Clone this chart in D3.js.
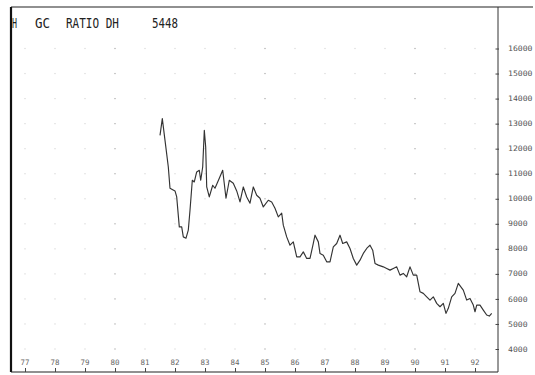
<!DOCTYPE html>
<html>
<head>
<meta charset="utf-8">
<script src="https://cdn.jsdelivr.net/npm/d3@7"></script>
<style>
  html, body { margin: 0; padding: 0; background: #fff; }
  svg { display: block; }
  text { -webkit-font-smoothing: antialiased; }
</style>
</head>
<body>
<script>
// ---- data ----
const titleParts = ["H", "GC", "RATIO DH", "5448"];
const yearTicks = [77, 78, 79, 80, 81, 82, 83, 84, 85, 86, 87, 88, 89, 90, 91, 92];
const valueTicks = [4000, 5000, 6000, 7000, 8000, 9000, 10000, 11000, 12000, 13000, 14000, 15000, 16000];
const dates = [81.5, 81.577, 81.667, 81.777, 81.833, 82.0, 82.057, 82.143, 82.223, 82.277, 82.367, 82.443, 82.5, 82.577, 82.643, 82.723, 82.81, 82.857, 82.923, 82.977, 83.023, 83.057, 83.143, 83.257, 83.333, 83.477, 83.59, 83.7, 83.81, 83.943, 84.057, 84.167, 84.277, 84.39, 84.5, 84.61, 84.723, 84.833, 84.943, 85.11, 85.223, 85.333, 85.443, 85.557, 85.61, 85.723, 85.833, 85.943, 86.057, 86.167, 86.277, 86.39, 86.5, 86.61, 86.667, 86.777, 86.833, 86.943, 87.057, 87.167, 87.277, 87.39, 87.5, 87.59, 87.723, 87.833, 87.943, 88.057, 88.167, 88.277, 88.39, 88.5, 88.59, 88.667, 88.777, 88.943, 89.057, 89.167, 89.277, 89.39, 89.5, 89.61, 89.723, 89.833, 89.943, 90.057, 90.167, 90.277, 90.39, 90.5, 90.61, 90.723, 90.833, 90.943, 91.033, 91.11, 91.223, 91.333, 91.443, 91.61, 91.723, 91.833, 91.943, 92.0, 92.057, 92.167, 92.277, 92.39, 92.477, 92.557];
const ratio = [12532, 13198, 12333, 11268, 10419, 10313, 10072, 8876, 8876, 8477, 8425, 8745, 9542, 10738, 10670, 11069, 11137, 10738, 11268, 12732, 12066, 10471, 10072, 10539, 10419, 10818, 11137, 10020, 10738, 10618, 10313, 9873, 10471, 10072, 9821, 10471, 10140, 10020, 9673, 9940, 9873, 9622, 9275, 9422, 8944, 8477, 8146, 8278, 7680, 7680, 7879, 7616, 7616, 8214, 8545, 8278, 7816, 7748, 7481, 7481, 8079, 8214, 8545, 8214, 8278, 8015, 7616, 7349, 7548, 7816, 8015, 8146, 7947, 7417, 7349, 7281, 7217, 7150, 7217, 7281, 6950, 7018, 6883, 7281, 6950, 6950, 6285, 6221, 6085, 5954, 6085, 5822, 5687, 5822, 5423, 5623, 6085, 6221, 6619, 6352, 5954, 6021, 5754, 5487, 5754, 5754, 5555, 5356, 5316, 5423];

// ---- layout ----
const W = 535, H = 375;
const frameLeft = 11, frameTop = 7, axisX = 498, frameBottom = 372;

const svg = d3.select("body").append("svg").attr("width", W).attr("height", H);
svg.append("rect").attr("width", W).attr("height", H).attr("fill", "#fff");

const x = d3.scaleLinear().domain([77, 92]).range([25, 475]);
const y = d3.scaleLinear().domain([4000, 16000]).range([349, 48.5]);

// grid dots
const grid = svg.append("g");
yearTicks.forEach(yr => {
  valueTicks.forEach(v => {
    grid.append("rect")
      .attr("x", x(yr) - 0.6).attr("y", y(v) - 0.6)
      .attr("width", 1.2).attr("height", 1.2)
      .attr("fill", (yr % 5 === 0) ? "#a8a8a8" : "#d8d8d8");
  });
});

// frame
svg.append("line").attr("x1", frameLeft).attr("x2", 533).attr("y1", frameTop).attr("y2", frameTop)
  .attr("stroke", "#222").attr("stroke-width", 1.2);
svg.append("line").attr("x1", frameLeft).attr("x2", frameLeft).attr("y1", frameTop).attr("y2", frameBottom)
  .attr("stroke", "#111").attr("stroke-width", 2.2);
svg.append("line").attr("x1", frameLeft).attr("x2", axisX).attr("y1", frameBottom).attr("y2", frameBottom)
  .attr("stroke", "#222").attr("stroke-width", 1.2);
svg.append("line").attr("x1", axisX).attr("x2", axisX).attr("y1", frameTop).attr("y2", frameBottom)
  .attr("stroke", "#333").attr("stroke-width", 1);

// bottom axis (ticks up from baseline)
const xAxis = d3.axisTop(x).tickValues(yearTicks).tickSize(4).tickFormat(d3.format("d"));
const gx = svg.append("g").attr("transform", `translate(0,${frameBottom})`).call(xAxis);
gx.select(".domain").remove();
gx.selectAll(".tick line").attr("stroke", "#444");
gx.selectAll(".tick text").remove();
svg.append("g").selectAll("text").data(yearTicks).join("text")
  .attr("x", d => x(d)).attr("y", 365)
  .attr("text-anchor", "middle")
  .attr("font-family", "DejaVu Sans Mono, monospace")
  .attr("font-size", 7.5)
  .attr("fill", "#666")
  .text(d => d);

// right axis
const yAxis = d3.axisRight(y).tickValues(valueTicks).tickSize(0).tickFormat(d3.format("d"));
const gy = svg.append("g").attr("transform", `translate(${axisX},0)`).call(yAxis);
gy.select(".domain").remove();
gy.selectAll(".tick text").remove();
gy.selectAll(".tick").append("line").attr("x1", -2.5).attr("x2", 1).attr("stroke", "#444");
svg.append("g").selectAll("text").data(valueTicks).join("text")
  .attr("x", 508).attr("y", d => y(d) + 2.6)
  .attr("font-family", "DejaVu Sans Mono, monospace")
  .attr("font-size", 7.5)
  .attr("fill", "#555")
  .attr("textLength", d => String(d).length * 4.9)
  .attr("lengthAdjust", "spacingAndGlyphs")
  .text(d => d);

// title
const titleX = [12, 35, 66, 152];
const titleW = [5, 15, 53, 26];
svg.append("g").selectAll("text").data(titleParts).join("text")
  .attr("x", (d, i) => titleX[i]).attr("y", 28)
  .attr("font-family", "DejaVu Sans Mono, monospace")
  .attr("font-size", 13.5)
  .attr("fill", "#222")
  .attr("textLength", (d, i) => titleW[i])
  .attr("lengthAdjust", "spacingAndGlyphs")
  .text(d => d);

// line
const pts = dates.map((d, i) => [d, ratio[i]]);
const line = d3.line().x(d => x(d[0])).y(d => y(d[1]));
svg.append("path").datum(pts)
  .attr("d", line)
  .attr("fill", "none")
  .attr("stroke", "#333")
  .attr("stroke-width", 1.15)
  .attr("stroke-linejoin", "round");
</script>
</body>
</html>
